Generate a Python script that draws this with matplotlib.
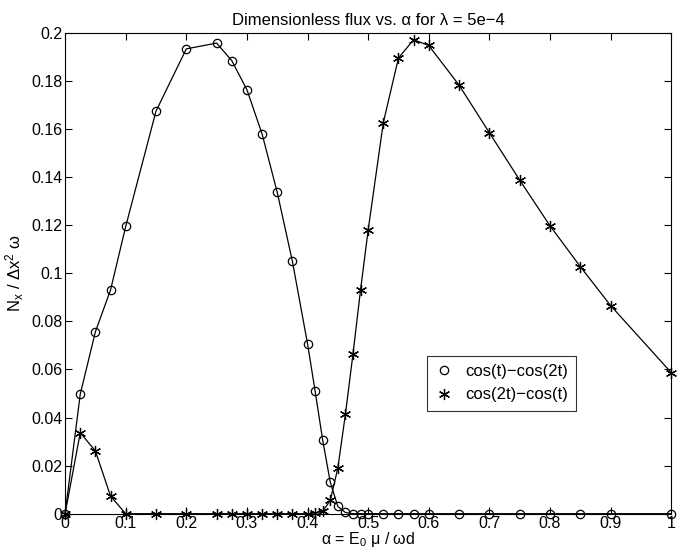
import numpy as np
import matplotlib
matplotlib.use("Agg")
import matplotlib.pyplot as plt

plt.rcParams["font.family"] = ["Liberation Sans", "DejaVu Sans"]
plt.rcParams["mathtext.default"] = "regular"

# alpha grid (same for both drive shapes)
alpha = [0, 0.025, 0.05, 0.075, 0.1, 0.15, 0.2, 0.25, 0.275, 0.3, 0.325,
         0.35, 0.375, 0.4, 0.4125, 0.425, 0.4375, 0.45, 0.4625, 0.475,
         0.4875, 0.5, 0.525, 0.55, 0.575, 0.6, 0.65, 0.7, 0.75, 0.8, 0.85,
         0.9, 1.0]

# cos(t)-cos(2t)
flux_a = [0, 0.0497, 0.0757, 0.0931, 0.1195, 0.1675, 0.1934, 0.1958, 0.1885,
          0.1764, 0.1580, 0.1337, 0.1050, 0.0707, 0.0510, 0.0306, 0.0131,
          0.0030, 0.0005, 0, 0, 0, 0, 0, 0, 0, 0, 0, 0, 0, 0, 0, 0]

# cos(2t)-cos(t)
flux_b = [0, 0.0337, 0.0261, 0.0073, 0, 0, 0, 0, 0, 0, 0, 0, 0, 0, 0.0003,
          0.0010, 0.0055, 0.0190, 0.0414, 0.0665, 0.0932, 0.1180, 0.1627,
          0.1896, 0.1972, 0.1948, 0.1783, 0.1585, 0.1388, 0.1198, 0.1028,
          0.0866, 0.0587]

fig = plt.figure(figsize=(6.78, 5.50), dpi=100)
ax = fig.add_axes([0.096, 0.066, 0.894, 0.874])

asterisk = (6, 2, 0)

ax.plot(alpha, flux_a, "k-", lw=0.9, clip_on=False)
ax.plot(alpha, flux_b, "k-", lw=0.9, clip_on=False)
ax.plot(alpha, flux_a, "ko", mfc="none", ms=6, mew=0.9, ls="none",
        clip_on=False, label="cos(t)\u2212cos(2t)")
ax.plot(alpha, flux_b, "k", marker=asterisk, ms=8, mew=0.9, ls="none",
        clip_on=False, label="cos(2t)\u2212cos(t)")

ax.set_xlim(0, 1)
ax.set_ylim(0, 0.2)
ax.set_xticks(np.arange(0, 1.01, 0.1))
ax.set_xticklabels(["0", "0.1", "0.2", "0.3", "0.4", "0.5", "0.6", "0.7",
                    "0.8", "0.9", "1"])
ax.set_yticks(np.arange(0, 0.201, 0.02))
ax.set_yticklabels(["0", "0.02", "0.04", "0.06", "0.08", "0.1", "0.12",
                    "0.14", "0.16", "0.18", "0.2"])
ax.tick_params(direction="in", top=True, right=True, length=5, width=0.8,
               labelsize=11.5, pad=2)
for s in ax.spines.values():
    s.set_linewidth(0.8)

ax.set_title("Dimensionless flux vs. \u03b1 for \u03bb = 5e\u22124", fontsize=12,
             pad=6)
ax.set_xlabel("\u03b1 = E$_0$ \u03bc / \u03c9d", fontsize=11.5, labelpad=-1)
ax.set_ylabel("N$_x$ / \u0394x$^2$ \u03c9", fontsize=12, labelpad=4)

leg = ax.legend(loc="lower left", bbox_to_anchor=(0.597, 0.214),
                fontsize=12, fancybox=False, edgecolor="black",
                handlelength=1.0, handletextpad=0.8, borderpad=0.5,
                labelspacing=0.5, borderaxespad=0)
leg.get_frame().set_linewidth(0.8)

fig.savefig("out.png", dpi=100)
